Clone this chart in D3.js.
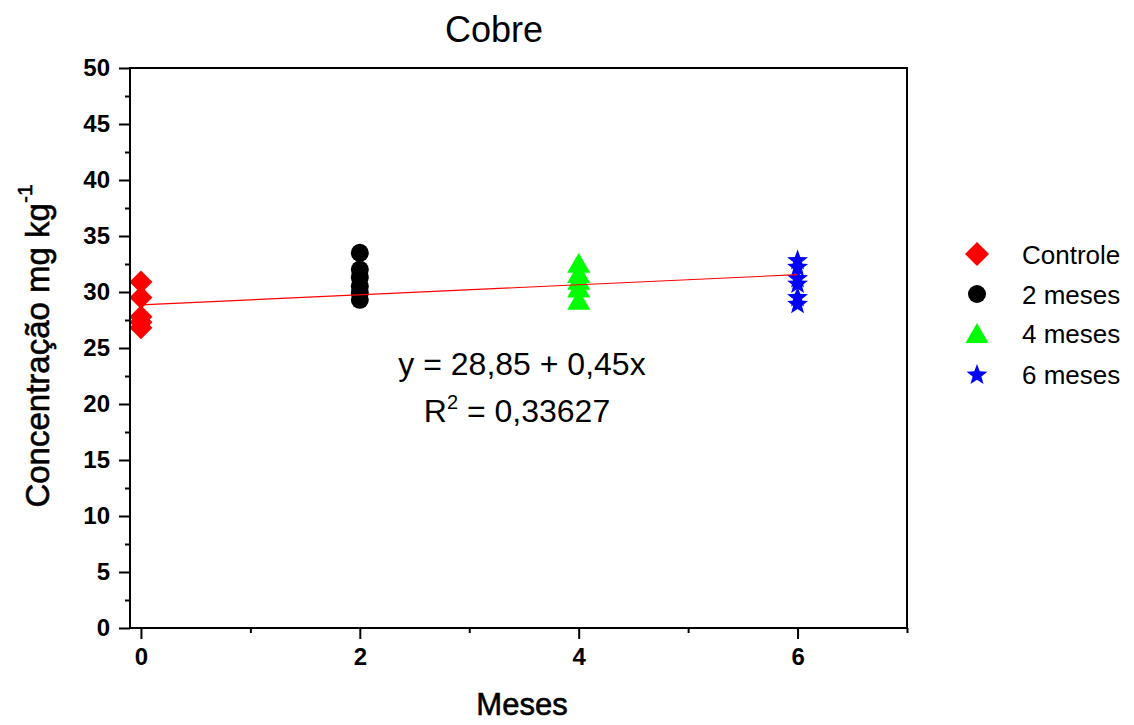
<!DOCTYPE html>
<html>
<head>
<meta charset="utf-8">
<script src="https://cdn.jsdelivr.net/npm/d3@7"></script>
<style>
  html, body { margin: 0; padding: 0; background: #fff; }
  svg { display: block; font-family: Arial, "Liberation Sans", sans-serif; }
</style>
</head>
<body>
<svg id="chart" width="1134" height="725"></svg>
<script>
// Copper concentration over storage time
const months = [0, 2, 4, 6];
const seriesNames = ["Controle", "2 meses", "4 meses", "6 meses"];
const seriesColors = ["#ff0000", "#000000", "#00ff00", "#0000ff"];
const controle = [30.9, 29.5, 27.8, 27.3, 26.8];
const meses2 = [33.5, 32.0, 31.3, 30.5, 29.9, 29.3];
const meses4 = [32.6, 31.7, 31.1, 30.4, 29.3];
const meses6 = [32.9, 32.3, 31.3, 30.8, 29.6, 29.0];
const xTicks = [0, 2, 4, 6];
const xMinorTicks = [1, 3, 5, 7];
const yTicks = [0, 5, 10, 15, 20, 25, 30, 35, 40, 45, 50];
const yMinorTicks = [2.5, 7.5, 12.5, 17.5, 22.5, 27.5, 32.5, 37.5, 42.5, 47.5];
const fitIntercept = 28.85;
const fitSlope = 0.45;
const fitR2 = "0,33627";

const svg = d3.select("#chart");
const plot = { left: 130, right: 907, top: 68, bottom: 628 };

const x = d3.scaleLinear().domain([-0.1, 7]).range([plot.left, plot.right]);
const y = d3.scaleLinear().domain([0, 50]).range([plot.bottom, plot.top]);

// marker shapes
const shapes = {
  diamond: r => `M0,${-r}L${r},0L0,${r}L${-r},0Z`,
  circle: r => `M${r},0A${r},${r} 0 1,1 ${-r},0A${r},${r} 0 1,1 ${r},0Z`,
  triangle: r => `M0,${-r * 0.95}L${r * 1.1},${r * 0.95}L${-r * 1.1},${r * 0.95}Z`,
  star: r => {
    const pts = [];
    for (let i = 0; i < 10; i++) {
      const rr = i % 2 === 0 ? r : r * 0.42;
      const a = -Math.PI / 2 + i * Math.PI / 5;
      pts.push([rr * Math.cos(a), rr * Math.sin(a) + r * 0.1]);
    }
    return "M" + pts.map(p => p.join(",")).join("L") + "Z";
  }
};
const series = [
  { name: seriesNames[0], month: months[0], values: controle, color: seriesColors[0], shape: "diamond", r: 11.5 },
  { name: seriesNames[1], month: months[1], values: meses2, color: seriesColors[1], shape: "circle", r: 9 },
  { name: seriesNames[2], month: months[2], values: meses4, color: seriesColors[2], shape: "triangle", r: 10.5 },
  { name: seriesNames[3], month: months[3], values: meses6, color: seriesColors[3], shape: "star", r: 11 }
];

// points
series.forEach(s => {
  svg.append("g").selectAll("path")
    .data(s.values)
    .join("path")
    .attr("d", shapes[s.shape](s.r))
    .attr("transform", v => `translate(${x(s.month)},${y(v)})`)
    .attr("fill", s.color);
});

// linear fit
const fitLine = d3.line().x(d => x(d)).y(d => y(fitIntercept + fitSlope * d));
svg.append("path")
  .attr("d", fitLine([0, 6]))
  .attr("fill", "none")
  .attr("stroke", "#ff0000")
  .attr("stroke-width", 1.1);

// axes
const axisStyle = g => {
  g.select(".domain").remove();
  g.selectAll("line").attr("stroke", "#000").attr("stroke-width", 2);
};
const tickText = g => g.selectAll("text").attr("font-size", 24).attr("font-weight", "bold")
  .attr("font-family", "Arial, 'Liberation Sans', sans-serif").attr("fill", "#000");
svg.append("g")
  .attr("transform", `translate(${plot.left},0)`)
  .call(d3.axisLeft(y).tickValues(yTicks).tickSize(11).tickPadding(9).tickFormat(d3.format("d")))
  .call(axisStyle)
  .call(tickText);
svg.append("g")
  .attr("transform", `translate(${plot.left},0)`)
  .call(d3.axisLeft(y).tickValues(yMinorTicks).tickSize(5).tickFormat(""))
  .call(axisStyle);
svg.append("g")
  .attr("transform", `translate(0,${plot.bottom})`)
  .call(d3.axisBottom(x).tickValues(xTicks).tickSize(11).tickPadding(9).tickFormat(d3.format("d")))
  .call(axisStyle)
  .call(tickText);
svg.append("g")
  .attr("transform", `translate(0,${plot.bottom})`)
  .call(d3.axisBottom(x).tickValues(xMinorTicks).tickSize(5).tickFormat(""))
  .call(axisStyle);

// frame
svg.append("rect")
  .attr("x", plot.left).attr("y", plot.top)
  .attr("width", plot.right - plot.left).attr("height", plot.bottom - plot.top)
  .attr("fill", "none").attr("stroke", "#000").attr("stroke-width", 2);

// title and axis titles
svg.append("text")
  .attr("x", 494).attr("y", 42)
  .attr("text-anchor", "middle").attr("font-size", 36)
  .text("Cobre");
svg.append("text")
  .attr("x", 522).attr("y", 715)
  .attr("text-anchor", "middle").attr("font-size", 31)
  .attr("stroke", "#000").attr("stroke-width", 0.6)
  .text("Meses");
const yl = svg.append("text")
  .attr("transform", "translate(49,346) rotate(-90)")
  .attr("text-anchor", "middle").attr("font-size", 33)
  .attr("stroke", "#000").attr("stroke-width", 0.6);
yl.append("tspan").text("Concentração mg kg");
yl.append("tspan").attr("dy", -17).attr("font-size", 21).text("-1");

// regression equation
const eq = svg.append("g").attr("font-size", 32).attr("text-anchor", "middle");
eq.append("text").attr("x", 522).attr("y", 375)
  .text(`y = ${d3.format(".2f")(fitIntercept).replace(".", ",")} + ${d3.format(".2f")(fitSlope).replace(".", ",")}x`);
const r2t = eq.append("text").attr("x", 517).attr("y", 422);
r2t.append("tspan").text("R");
r2t.append("tspan").attr("dy", -13).attr("font-size", 20).text("2");
r2t.append("tspan").attr("dy", 13).text(` = ${fitR2}`);

// legend
const legendY = [254, 294, 333, 374];
const legend = svg.append("g");
series.forEach((s, i) => {
  legend.append("path")
    .attr("d", shapes[s.shape](s.shape === "diamond" ? 12 : s.r))
    .attr("transform", `translate(977,${legendY[i]})`)
    .attr("fill", s.color);
  legend.append("text")
    .attr("x", 1022).attr("y", legendY[i] + 10)
    .attr("font-size", 26)
    .text(s.name);
});
</script>
</body>
</html>
